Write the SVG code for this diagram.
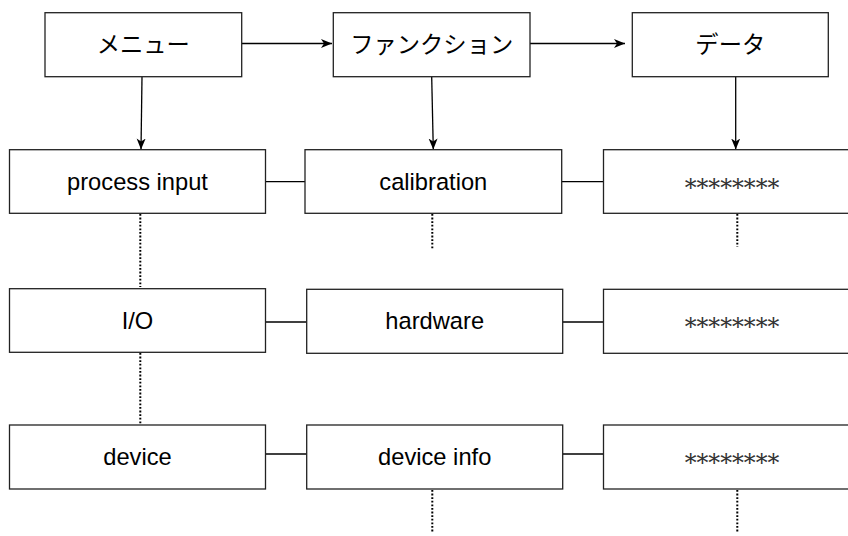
<svg xmlns="http://www.w3.org/2000/svg" width="848" height="536" viewBox="0 0 848 536">
<style>
.box{fill:#fff;stroke:#222;stroke-width:1.3}
.t{font-family:"Liberation Sans","Noto Sans CJK JP",Arial,sans-serif;font-size:23.7px;fill:#000;text-anchor:middle}
.j{font-family:"Noto Sans CJK JP","Liberation Sans",sans-serif;font-size:23.3px;fill:#000;text-anchor:middle}
.s{font-family:"DejaVu Serif","Liberation Serif",serif;font-size:23.7px;fill:#333;text-anchor:middle}
.ln{fill:none;stroke:#000;stroke-width:1.3}
.dot{fill:none;stroke:#000;stroke-width:2;stroke-dasharray:1.8 1.8}
</style>
<defs>
<marker id="arr" markerWidth="12" markerHeight="10" refX="11" refY="5" orient="auto" markerUnits="userSpaceOnUse" viewBox="0 0 12 10">
<path d="M0,0.5 L11,5 L0,9.5 L3,5 Z" fill="#000"/>
</marker>
</defs>
<g id="connectors">
<line class="ln" x1="242" y1="43.5" x2="332" y2="43.5" marker-end="url(#arr)"/>
<line class="ln" x1="530" y1="43.5" x2="625" y2="43.5" marker-end="url(#arr)"/>
<line class="ln" x1="142" y1="77" x2="141" y2="149.5" marker-end="url(#arr)"/>
<line class="ln" x1="431.7" y1="77" x2="433.3" y2="149.5" marker-end="url(#arr)"/>
<line class="ln" x1="735.7" y1="77" x2="735.7" y2="149.5" marker-end="url(#arr)"/>
<line class="ln" x1="265.5" y1="181.7" x2="305" y2="181.7"/>
<line class="ln" x1="562" y1="181.7" x2="603.5" y2="181.7"/>
<line class="ln" x1="265.5" y1="322" x2="306.7" y2="322"/>
<line class="ln" x1="562.7" y1="322" x2="603.5" y2="322"/>
<line class="ln" x1="265.5" y1="454" x2="306.7" y2="454"/>
<line class="ln" x1="562.7" y1="454" x2="603.5" y2="454"/>
<line class="dot" x1="140.3" y1="214" x2="140.3" y2="287"/>
<line class="dot" x1="140.3" y1="353" x2="140.3" y2="424"/>
<line class="dot" x1="432.3" y1="214" x2="432.3" y2="250"/>
<line class="dot" x1="737.3" y1="214" x2="737.3" y2="247"/>
<line class="dot" x1="432.3" y1="490" x2="432.3" y2="533"/>
<line class="dot" x1="737.3" y1="490" x2="737.3" y2="533"/>
</g>
<g id="menu"><rect class="box" x="45" y="12.7" width="196.7" height="64"/><text class="j" x="143.3" y="53">メニュー</text></g>
<g id="function"><rect class="box" x="333.3" y="12.7" width="196.7" height="64"/><text class="j" x="431.7" y="53">ファンクション</text></g>
<g id="data"><rect class="box" x="632.3" y="12.7" width="196" height="64"/><text class="j" x="730.3" y="53">データ</text></g>
<g id="process-input"><rect class="box" x="9.5" y="149.7" width="256" height="63.6"/><text class="t" x="137.5" y="190">process input</text></g>
<g id="calibration"><rect class="box" x="305" y="149.7" width="256.7" height="63.6"/><text class="t" x="433.3" y="190">calibration</text></g>
<g id="data1"><rect class="box" x="603.5" y="149.7" width="260" height="63.6"/><text class="s" x="732" y="195.5">********</text></g>
<g id="io"><rect class="box" x="9.5" y="288.7" width="256" height="63.6"/><text class="t" x="137.5" y="329">I/O</text></g>
<g id="hardware"><rect class="box" x="306.7" y="289.3" width="256" height="64"/><text class="t" x="434.7" y="329">hardware</text></g>
<g id="data2"><rect class="box" x="603.5" y="289.3" width="260" height="64"/><text class="s" x="732" y="335">********</text></g>
<g id="device"><rect class="box" x="9.5" y="425" width="256" height="64"/><text class="t" x="137.5" y="465">device</text></g>
<g id="device-info"><rect class="box" x="306.7" y="425" width="256" height="64"/><text class="t" x="434.7" y="465">device info</text></g>
<g id="data3"><rect class="box" x="603.5" y="425" width="260" height="64"/><text class="s" x="732" y="471">********</text></g>
</svg>
